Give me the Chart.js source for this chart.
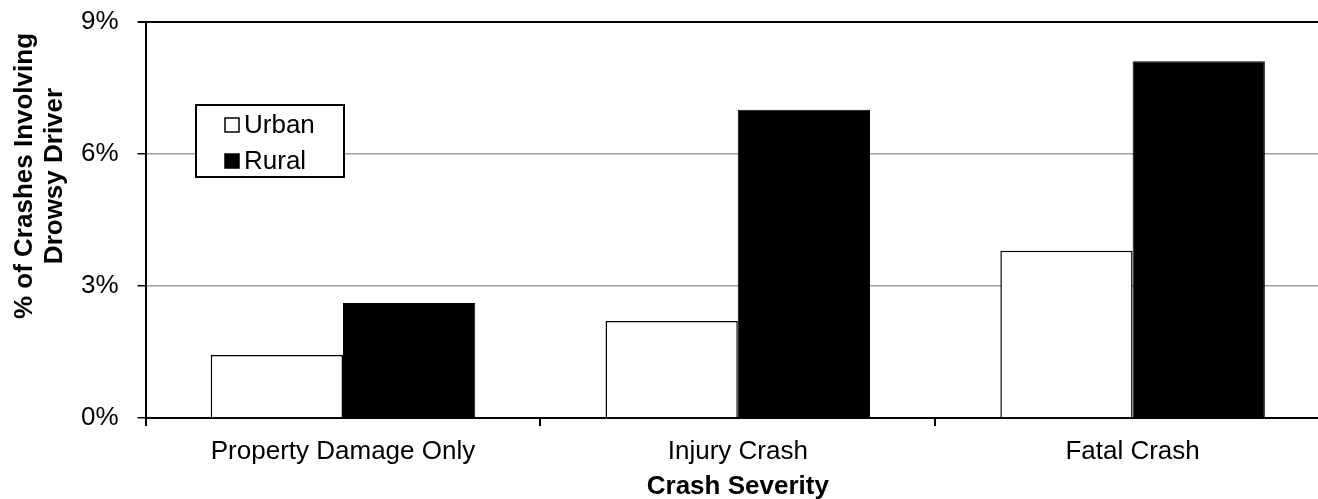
<!DOCTYPE html>
<html>
<head>
<meta charset="utf-8">
<script src="https://cdn.jsdelivr.net/npm/chart.js@4.4.0/dist/chart.umd.min.js"></script>
<style>
  html, body { margin: 0; padding: 0; background: #fff; overflow: hidden; }
  #wrap { width: 1318px; height: 499px; overflow: hidden; }
</style>
</head>
<body>
<div id="wrap"><canvas id="chart" width="1332" height="499"></canvas></div>
<script>
const categories = ["Property Damage Only", "Injury Crash", "Fatal Crash"];
const urban = [1.43, 2.2, 3.8];
const rural = [2.61, 7.0, 8.1];
const yTicks = [0, 3, 6, 9];
const yTitle = ["% of Crashes Involving", "Drowsy Driver"];

const FONT = "'Liberation Sans', Arial, sans-serif";

// legend box inside the plot + y title (sits a bit above centre in the original)
const extras = {
  id: "extras",
  afterDraw(chart) {
    const c = chart.ctx;
    c.save();
    c.fillStyle = "#fff";
    c.fillRect(196, 105, 148, 72);
    c.strokeStyle = "#000";
    c.lineWidth = 2;
    c.strokeRect(196, 105, 148, 72);
    c.font = "26px " + FONT;
    c.textBaseline = "middle";
    chart.data.datasets.forEach((ds, i) => {
      const y = 125 + i * 36;
      c.fillStyle = ds.backgroundColor;
      c.fillRect(225, y - 7, 14, 14);
      c.lineWidth = 1.5;
      c.strokeStyle = "#000";
      c.strokeRect(225, y - 7, 14, 14);
      c.fillStyle = "#000";
      c.fillText(ds.label, 244, y + 1);
    });

    c.font = "bold 26px " + FONT;
    c.textAlign = "center";
    c.fillStyle = "#000";
    c.translate(0, 176);
    c.rotate(-Math.PI / 2);
    c.fillText(yTitle[0], 0, 25);
    c.fillText(yTitle[1], 0, 55);
    c.restore();
  }
};

new Chart(document.getElementById("chart"), {
  type: "bar",
  data: {
    labels: categories,
    datasets: [
      { label: "Urban", data: urban, backgroundColor: "#ffffff", borderColor: "#000", borderWidth: 1.5 },
      { label: "Rural", data: rural, backgroundColor: "#000000", borderColor: "#000", borderWidth: 1 }
    ]
  },
  options: {
    responsive: false,
    animation: false,
    layout: { padding: { top: 10, left: 62, right: 2, bottom: -1 } },
    categoryPercentage: 0.67,
    barPercentage: 1.0,
    plugins: { legend: { display: false }, tooltip: { enabled: false } },
    scales: {
      x: {
        grid: { drawOnChartArea: false, tickLength: 8, tickColor: "#000", lineWidth: 2 },
        border: { color: "#000", width: 2 },
        ticks: { color: "#000", font: { family: FONT, size: 26, lineHeight: 1 }, padding: 13 },
        title: { display: true, text: "Crash Severity", color: "#000", font: { family: FONT, size: 26, weight: "bold", lineHeight: 1 }, padding: { top: -4, bottom: 0 } }
      },
      y: {
        min: 0,
        max: 9,
        afterBuildTicks(axis) { axis.ticks = yTicks.map(v => ({ value: v })); },
        grid: {
          color: ctx => (ctx.tick && ctx.tick.value === 9 ? "#000" : "#a0a0a0"),
          lineWidth: ctx => (ctx.tick && ctx.tick.value === 9 ? 2 : 1.5),
          tickLength: 8,
          tickColor: "#000"
        },
        border: { color: "#000", width: 2 },
        ticks: { color: "#000", font: { family: FONT, size: 26, lineHeight: 0.2 }, padding: 19, callback: v => v + "%" }
      }
    }
  },
  plugins: [extras]
});
</script>
</body>
</html>
